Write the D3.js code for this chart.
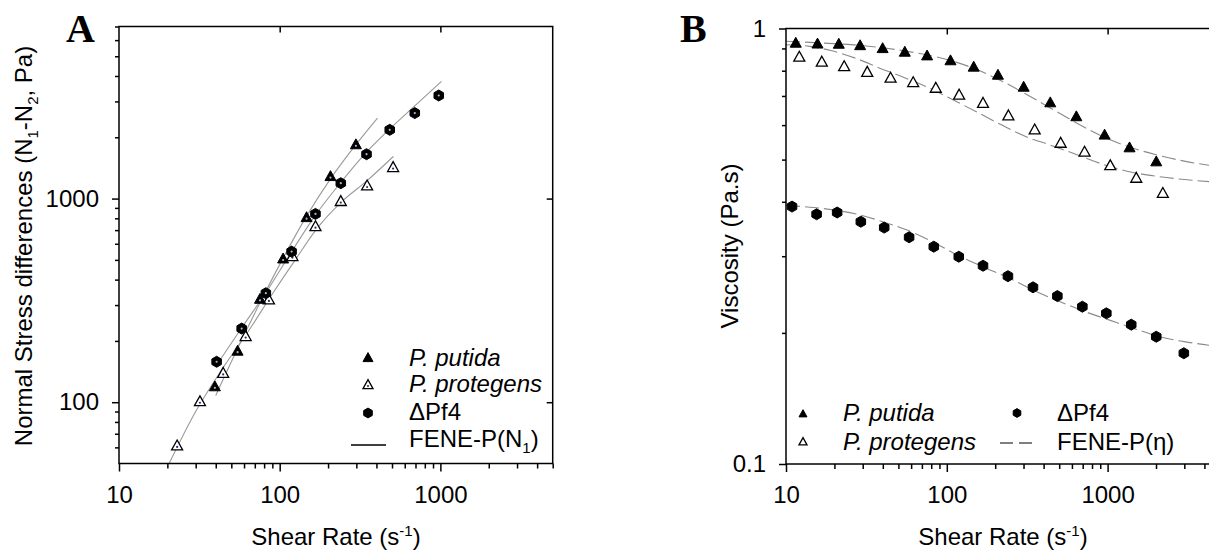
<!DOCTYPE html>
<html lang="en">
<head>
<meta charset="UTF-8">
<title>Normal stress differences and viscosity</title>
<style>
    body { margin: 0; background: #ffffff; }
    svg { display: block; }
    text { font-family: 'Liberation Sans', Arial, sans-serif; fill: #000; }
</style>
</head>
<body>
<svg id="chart"></svg>
<script src="https://cdn.jsdelivr.net/npm/d3@7"></script>
<script>
    // ---- panel A data: shear rate (1/s), N1-N2 (Pa)
    let aPutida = [[39.5, 119], [54.7, 178], [75.4, 320], [105, 505], [147, 806], [207, 1282], [298, 1837]];
    let aProtegens = [[23, 61], [31.9, 100.5], [44.5, 138.5], [61.4, 210], [85.7, 318], [120, 519],
        [167, 728], [240, 967], [350, 1153], [508, 1420]];
    let aPf4 = [[40.5, 158], [58, 230], [82, 343], [118.6, 549], [167, 841], [240, 1190],
        [347, 1652], [484, 2176], [693, 2629], [977, 3208]];
    // FENE-P fits
    let aFitPutida = [[40, 108], [55, 185], [75, 305], [105, 510], [147, 820], [207, 1250], [298, 1840], [406, 2485]];
    let aFitProtegens = [[20.5, 50], [30, 90], [45, 150], [65, 228], [90, 340], [125, 500], [170, 710],
        [240, 955], [350, 1225], [510, 1610]];
    let aFitPf4 = [[40, 150], [58, 232], [82, 345], [118, 545], [167, 830], [240, 1200], [347, 1690],
        [484, 2200], [693, 2850], [1016, 3760]];

    // ---- panel B data: shear rate (1/s), viscosity (Pa.s)
    let bPutida = [[11.5, 0.925], [15.7, 0.921], [21.3, 0.920], [28.9, 0.913], [39.9, 0.899], [54.8, 0.882],
        [75.4, 0.865], [105.4, 0.843], [147, 0.815], [208, 0.781], [300.6, 0.733], [440, 0.675],
        [639, 0.627], [958, 0.569], [1369, 0.532], [2007, 0.494]];
    let bProtegens = [[12.1, 0.859], [16.7, 0.837], [23, 0.817], [32, 0.793], [44.7, 0.769], [61.8, 0.751],
        [85.4, 0.729], [119.3, 0.703], [168, 0.673], [241.6, 0.630], [352, 0.585], [510.5, 0.545],
        [719, 0.520], [1039, 0.484], [1507, 0.453], [2205, 0.418]];
    let bPf4 = [[10.9, 0.390], [15.5, 0.3745], [20.8, 0.378], [29.2, 0.360], [40.8, 0.349], [58.3, 0.3316],
        [83, 0.3155], [118.7, 0.2992], [168, 0.2853], [240, 0.270], [343.6, 0.2545], [487, 0.243],
        [696.6, 0.2297], [982, 0.2218], [1403, 0.2089], [2007, 0.196], [2979, 0.1796]];
    let bFitPutida = [[10, 0.935], [15, 0.928], [21, 0.922], [29, 0.915], [40, 0.903], [55, 0.888], [75, 0.87],
        [105, 0.845], [147, 0.81], [208, 0.765], [300, 0.712], [440, 0.657], [640, 0.607], [960, 0.562],
        [1400, 0.533], [2000, 0.513], [3000, 0.496], [5000, 0.481]];
    let bFitProtegens = [[10, 0.918], [14, 0.91], [19, 0.89], [27, 0.855], [38, 0.812], [55, 0.77], [78, 0.73],
        [110, 0.685], [160, 0.638], [220, 0.6], [312, 0.564], [440, 0.54], [610, 0.517], [900, 0.49],
        [1370, 0.469], [2000, 0.458], [3000, 0.45], [5000, 0.443]];
    let bFitPf4 = [[10, 0.392], [15, 0.388], [20, 0.383], [29, 0.373], [40, 0.36], [56, 0.345], [80, 0.325],
        [120, 0.3], [170, 0.283], [246, 0.267], [350, 0.25], [503, 0.236], [720, 0.224], [1028, 0.214],
        [1500, 0.204], [2100, 0.196], [3000, 0.191], [5000, 0.186]];

    // ---- axes
    let xDomain = [10, 5000];
    let xTicks = [10, 100, 1000];
    let aYDomain = [50, 7000];
    let aYTicks = [100, 1000];
    let bYDomain = [0.1, 1];
    let bYTicks = [0.1, 1];

    let width = 1209, height = 552;
    let fs = 24;  // main font size
    let svg = d3.select("#chart").attr("width", width).attr("height", height);

    let xA = d3.scaleLog().domain(xDomain).range([119, 552.7]);
    let yA = d3.scaleLog().domain(aYDomain).range([463.5, 26.5]);
    let xB = d3.scaleLog().domain(xDomain).range([786, 1220]);
    let yB = d3.scaleLog().domain(bYDomain).range([464, 28.5]);

    function minorTicks(domain) {
        let out = [];
        for (let d = Math.pow(10, Math.floor(Math.log10(domain[0]))); d < domain[1]; d *= 10) {
            for (let k = 2; k <= 9; k++) {
                let v = +(d * k).toPrecision(3);
                if (v > domain[0] && v <= domain[1]) out.push(v);
            }
        }
        return out;
    }

    function styleAxis(g) {
        g.select(".domain").remove();
        g.selectAll("line").attr("stroke", "#000").attr("stroke-width", 1.5);
        g.selectAll("text").attr("font-size", fs).attr("font-family", "'Liberation Sans', Arial, sans-serif");
    }

    function drawFrame(x, y, yTicks, yFmt) {
        let [x0, x1] = x.range(), [y0, y1] = y.range();
        // bottom
        svg.append("g").attr("transform", `translate(0,${y0})`)
            .call(d3.axisBottom(x).tickValues(minorTicks(x.domain())).tickSize(5).tickFormat(""))
            .call(styleAxis);
        svg.append("g").attr("transform", `translate(0,${y0})`)
            .call(d3.axisBottom(x).tickValues(xTicks).tickSize(8).tickPadding(14).tickFormat(d3.format("d")))
            .call(styleAxis);
        // left
        svg.append("g").attr("transform", `translate(${x0},0)`)
            .call(d3.axisLeft(y).tickValues(minorTicks(y.domain())).tickSize(4).tickFormat(""))
            .call(styleAxis);
        svg.append("g").attr("transform", `translate(${x0},0)`)
            .call(d3.axisLeft(y).tickValues(yTicks).tickSize(7).tickPadding(13).tickFormat(yFmt))
            .call(styleAxis);
        // top and right, ticks pointing in
        svg.append("g").attr("transform", `translate(0,${y1})`)
            .call(d3.axisTop(x).tickValues([100, 1000]).tickSize(-6).tickFormat(""))
            .call(styleAxis);
        svg.append("g").attr("transform", `translate(${x1},0)`)
            .call(d3.axisRight(y).tickValues(yTicks.filter(v => y(v) > y1 + 1 && y(v) < y0 - 1)).tickSize(-6).tickFormat(""))
            .call(styleAxis);
        svg.append("rect")
            .attr("x", x0).attr("y", y1).attr("width", x1 - x0).attr("height", y0 - y1)
            .attr("fill", "none").attr("stroke", "#000").attr("stroke-width", 1.5);
    }

    // marker shapes
    function triangle(s) {
        let h = s * 0.9;
        return `M0,${-h * 0.6}L${s / 2},${h * 0.4}L${-s / 2},${h * 0.4}Z`;
    }
    function hexagon(s) {
        let r = s / 2, p = d3.path();
        for (let i = 0; i < 6; i++) {
            let a = Math.PI / 3 * i - Math.PI / 2;
            i ? p.lineTo(r * Math.cos(a), r * Math.sin(a)) : p.moveTo(r * Math.cos(a), r * Math.sin(a));
        }
        p.closePath();
        return p.toString();
    }

    function drawPoints(g, data, x, y, kind, size, dot) {
        let sel = g.append("g").selectAll("g").data(data).enter().append("g")
            .attr("transform", d => `translate(${x(d[0])},${y(d[1])})`);
        sel.append("path")
            .attr("d", kind === "hex" ? hexagon(size * 1.1) : triangle(size))
            .attr("fill", kind === "open" ? "#fff" : "#000")
            .attr("stroke", "#000")
            .attr("stroke-width", kind === "open" ? 1.3 : 1);
        if (dot) {
            sel.append("circle").attr("r", 1.1)
                .attr("cy", kind === "hex" ? 0 : 1)
                .attr("fill", kind === "open" ? "#23306e" : "#a8b4e0");
        }
    }

    function drawFit(g, data, x, y, dashed) {
        g.append("path")
            .datum(data)
            .attr("d", d3.line().x(d => x(d[0])).y(d => y(d[1])).curve(d3.curveMonotoneX))
            .attr("fill", "none")
            .attr("stroke", dashed ? "#8a8a8a" : "#9a9a9a")
            .attr("stroke-width", 1.1)
            .attr("stroke-dasharray", dashed ? "14,5" : null);
    }

    // ---------------- Panel A ----------------
    let gA = svg.append("g");
    drawFit(gA, aFitProtegens, xA, yA, false);
    drawFit(gA, aFitPf4, xA, yA, false);
    drawFit(gA, aFitPutida, xA, yA, false);
    drawPoints(gA, aProtegens, xA, yA, "open", 11, true);
    drawPoints(gA, aPutida, xA, yA, "filled", 11, true);
    drawPoints(gA, aPf4, xA, yA, "hex", 10, true);
    drawFrame(xA, yA, aYTicks, d3.format("d"));

    // ---------------- Panel B ----------------
    svg.append("clipPath").attr("id", "clipB").append("rect")
        .attr("x", 786).attr("y", 28.5).attr("width", 434).attr("height", 435.5);
    let gB = svg.append("g").attr("clip-path", "url(#clipB)");
    drawFit(gB, bFitPutida, xB, yB, true);
    drawFit(gB, bFitProtegens, xB, yB, true);
    drawFit(gB, bFitPf4, xB, yB, true);
    let gBp = svg.append("g");
    drawPoints(gBp, bProtegens, xB, yB, "open", 11, false);
    drawPoints(gBp, bPutida, xB, yB, "filled", 11, false);
    drawPoints(gBp, bPf4, xB, yB, "hex", 10, false);
    drawFrame(xB, yB, bYTicks, d => d === 1 ? "1" : "0.1");

    // ---------------- Titles ----------------
    // parts: [text, dy, small?]
    function rich(t, parts) {
        parts.forEach(([txt, dy, small]) => {
            let ts = t.append("tspan").text(txt);
            if (dy) ts.attr("dy", dy);
            if (small) ts.attr("font-size", 15);
        });
    }

    let xtA = svg.append("text").attr("x", 336).attr("y", 545).attr("text-anchor", "middle").attr("font-size", fs);
    rich(xtA, [["Shear Rate (s"], ["-1", -9, true], [")", 9]]);
    let xtB = svg.append("text").attr("x", 1003).attr("y", 545).attr("text-anchor", "middle").attr("font-size", fs);
    rich(xtB, [["Shear Rate (s"], ["-1", -9, true], [")", 9]]);

    let ytA = svg.append("text").attr("transform", "translate(32,246) rotate(-90)")
        .attr("text-anchor", "middle").attr("font-size", fs);
    rich(ytA, [["Normal Stress differences (N"], ["1", 6, true], ["-N", -6], ["2", 6, true], [", Pa)", -6]]);

    svg.append("text").attr("transform", "translate(738,246) rotate(-90)")
        .attr("text-anchor", "middle").attr("font-size", fs).text("Viscosity (Pa.s)");

    svg.append("text").attr("x", 66).attr("y", 42)
        .style("font-family", "'Liberation Serif', 'Times New Roman', serif")
        .attr("font-weight", "bold").attr("font-size", 40).text("A");
    svg.append("text").attr("x", 680).attr("y", 42)
        .style("font-family", "'Liberation Serif', 'Times New Roman', serif")
        .attr("font-weight", "bold").attr("font-size", 40).text("B");

    // ---------------- Legends ----------------
    function legendMarker(x, y, kind, size, dot) {
        drawPoints(svg, [[0, 0]], () => x, () => y, kind, size, dot);
    }

    // legend A
    legendMarker(368, 358, "filled", 10, false);
    svg.append("text").attr("x", 409).attr("y", 366).attr("font-size", fs).attr("font-style", "italic").text("P. putida");
    legendMarker(368, 385, "open", 10, true);
    svg.append("text").attr("x", 409).attr("y", 392).attr("font-size", fs).attr("font-style", "italic").text("P. protegens");
    legendMarker(368, 413, "hex", 9, false);
    svg.append("text").attr("x", 409).attr("y", 420).attr("font-size", fs).text("\u0394Pf4");
    svg.append("line").attr("x1", 351).attr("x2", 386).attr("y1", 445).attr("y2", 445)
        .attr("stroke", "#000").attr("stroke-width", 1.4);
    let fA = svg.append("text").attr("x", 409).attr("y", 447).attr("font-size", fs);
    rich(fA, [["FENE-P(N"], ["1", 6, true], [")", -6]]);

    // legend B
    legendMarker(803, 414, "filled", 8, false);
    svg.append("text").attr("x", 843).attr("y", 421).attr("font-size", fs).attr("font-style", "italic").text("P. putida");
    legendMarker(803, 442, "open", 8, false);
    svg.append("text").attr("x", 843).attr("y", 450).attr("font-size", fs).attr("font-style", "italic").text("P. protegens");
    legendMarker(1017, 413, "hex", 8, false);
    svg.append("text").attr("x", 1057).attr("y", 421).attr("font-size", fs).text("\u0394Pf4");
    svg.append("line").attr("x1", 1000).attr("x2", 1036).attr("y1", 443).attr("y2", 443)
        .attr("stroke", "#000").attr("stroke-width", 1.2).attr("stroke-dasharray", "13,6");
    svg.append("text").attr("x", 1057).attr("y", 450).attr("font-size", fs).text("FENE-P(\u03b7)");
</script>
</body>
</html>
